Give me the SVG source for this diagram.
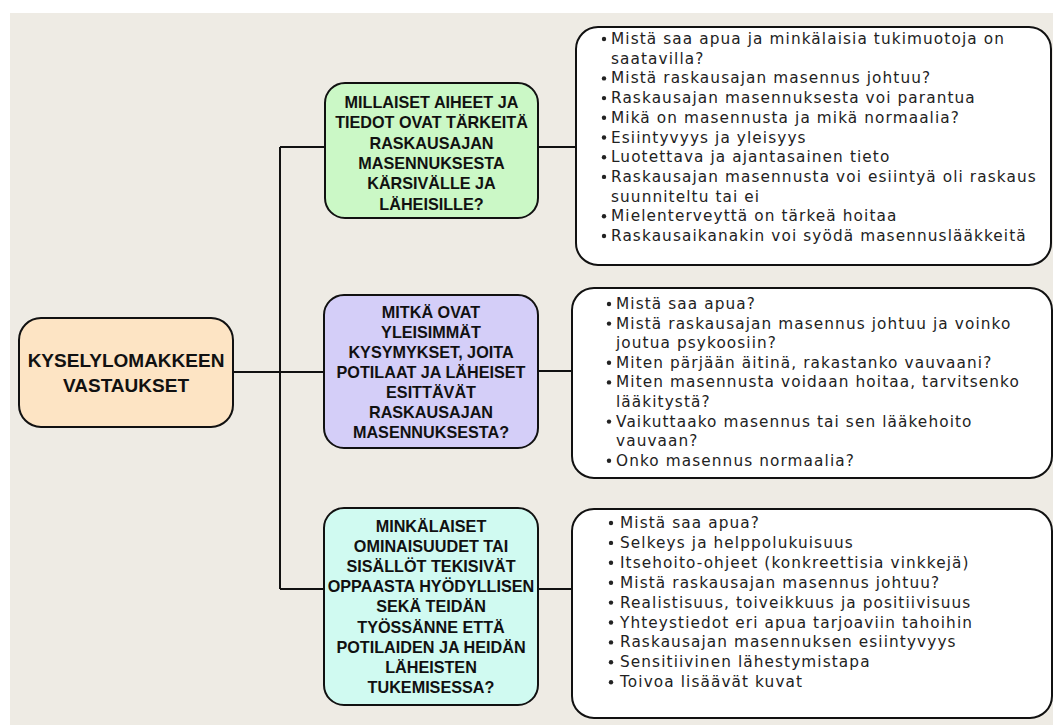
<svg xmlns="http://www.w3.org/2000/svg" width="1053" height="725" viewBox="0 0 1053 725">
<style>
.node{stroke:#111;stroke-width:2}
.title{font-family:"Liberation Sans",Arial,sans-serif;font-weight:700;fill:#111;text-anchor:middle}
.t19{font-size:19px}
.t16{font-size:16.2px}
.body{font-family:"DejaVu Sans","Noto Sans",sans-serif;font-size:15.3px;letter-spacing:1.1px;fill:#222}
.bul{fill:#222}
.conn{stroke:#111;stroke-width:2;fill:none}
</style>
<rect x="0" y="0" width="1053" height="725" fill="#ffffff"/>
<rect x="10" y="13" width="1043" height="712" fill="#eeebe4"/>
<g id="connectors">
<path class="conn" d="M233 372 H324"/>
<path class="conn" d="M280 147 V589"/>
<path class="conn" d="M280 147 H325"/>
<path class="conn" d="M280 589 H324"/>
<path class="conn" d="M538 147 H576"/>
<path class="conn" d="M538 371 H572"/>
<path class="conn" d="M538 589 H572"/>
</g>
<g id="root">
<rect class="node" x="19" y="318" width="214" height="109" rx="22" fill="#fde4c4"/>
<text class="title t19" x="126" y="367">KYSELYLOMAKKEEN</text>
<text class="title t19" x="126" y="392">VASTAUKSET</text>
</g>
<g id="q1">
<rect class="node" x="325" y="83" width="213" height="135" rx="20" fill="#cbf8c6"/>
<text class="title t16" x="431.5" y="108">MILLAISET AIHEET JA</text>
<text class="title t16" x="431.5" y="128.3">TIEDOT OVAT TÄRKEITÄ</text>
<text class="title t16" x="431.5" y="148.6">RASKAUSAJAN</text>
<text class="title t16" x="431.5" y="168.9">MASENNUKSESTA</text>
<text class="title t16" x="431.5" y="189.2">KÄRSIVÄLLE JA</text>
<text class="title t16" x="431.5" y="209.5">LÄHEISILLE?</text>
</g>
<g id="q2">
<rect class="node" x="324" y="295" width="214" height="153" rx="20" fill="#d4cef8"/>
<text class="title t16" x="431" y="318">MITKÄ OVAT</text>
<text class="title t16" x="431" y="338">YLEISIMMÄT</text>
<text class="title t16" x="431" y="358">KYSYMYKSET, JOITA</text>
<text class="title t16" x="431" y="378">POTILAAT JA LÄHEISET</text>
<text class="title t16" x="431" y="398">ESITTÄVÄT</text>
<text class="title t16" x="431" y="418">RASKAUSAJAN</text>
<text class="title t16" x="431" y="438">MASENNUKSESTA?</text>
</g>
<g id="q3">
<rect class="node" x="324" y="508" width="214" height="197" rx="20" fill="#d0faf1"/>
<text class="title t16" x="431" y="532">MINKÄLAISET</text>
<text class="title t16" x="431" y="552.1">OMINAISUUDET TAI</text>
<text class="title t16" x="431" y="572.2">SISÄLLÖT TEKISIVÄT</text>
<text class="title t16" x="431" y="592.3">OPPAASTA HYÖDYLLISEN</text>
<text class="title t16" x="431" y="612.4">SEKÄ TEIDÄN</text>
<text class="title t16" x="431" y="632.5">TYÖSSÄNNE ETTÄ</text>
<text class="title t16" x="431" y="652.6">POTILAIDEN JA HEIDÄN</text>
<text class="title t16" x="431" y="672.7">LÄHEISTEN</text>
<text class="title t16" x="431" y="692.8">TUKEMISESSA?</text>
</g>
<g id="a1">
<rect class="node" x="576" y="27" width="475" height="238" rx="22" fill="#ffffff"/>
<g class="bul">
<circle cx="604" cy="39" r="2.2"/>
<circle cx="604" cy="78.4" r="2.2"/>
<circle cx="604" cy="98.1" r="2.2"/>
<circle cx="604" cy="117.8" r="2.2"/>
<circle cx="604" cy="137.5" r="2.2"/>
<circle cx="604" cy="157.2" r="2.2"/>
<circle cx="604" cy="176.9" r="2.2"/>
<circle cx="604" cy="216.3" r="2.2"/>
<circle cx="604" cy="236" r="2.2"/>
</g>
<text class="body" x="611" y="44">Mistä saa apua ja minkälaisia tukimuotoja on</text>
<text class="body" x="611" y="63.7">saatavilla?</text>
<text class="body" x="611" y="83.4">Mistä raskausajan masennus johtuu?</text>
<text class="body" x="611" y="103.1">Raskausajan masennuksesta voi parantua</text>
<text class="body" x="611" y="122.8">Mikä on masennusta ja mikä normaalia?</text>
<text class="body" x="611" y="142.5">Esiintyvyys ja yleisyys</text>
<text class="body" x="611" y="162.2">Luotettava ja ajantasainen tieto</text>
<text class="body" x="611" y="181.9">Raskausajan masennusta voi esiintyä oli raskaus</text>
<text class="body" x="611" y="201.6">suunniteltu tai ei</text>
<text class="body" x="611" y="221.3">Mielenterveyttä on tärkeä hoitaa</text>
<text class="body" x="611" y="241">Raskausaikanakin voi syödä masennuslääkkeitä</text>
</g>
<g id="a2">
<rect class="node" x="572" y="288" width="480" height="190" rx="22" fill="#ffffff"/>
<g class="bul">
<circle cx="609" cy="304" r="2.2"/>
<circle cx="609" cy="323.6" r="2.2"/>
<circle cx="609" cy="362.8" r="2.2"/>
<circle cx="609" cy="382.4" r="2.2"/>
<circle cx="609" cy="421.6" r="2.2"/>
<circle cx="609" cy="460.8" r="2.2"/>
</g>
<text class="body" x="616" y="309">Mistä saa apua?</text>
<text class="body" x="616" y="328.6">Mistä raskausajan masennus johtuu ja voinko</text>
<text class="body" x="616" y="348.2">joutua psykoosiin?</text>
<text class="body" x="616" y="367.8">Miten pärjään äitinä, rakastanko vauvaani?</text>
<text class="body" x="616" y="387.4">Miten masennusta voidaan hoitaa, tarvitsenko</text>
<text class="body" x="616" y="407">lääkitystä?</text>
<text class="body" x="616" y="426.6">Vaikuttaako masennus tai sen lääkehoito</text>
<text class="body" x="616" y="446.2">vauvaan?</text>
<text class="body" x="616" y="465.8">Onko masennus normaalia?</text>
</g>
<g id="a3">
<rect class="node" x="572" y="509" width="480" height="209" rx="22" fill="#ffffff"/>
<g class="bul">
<circle cx="611" cy="523" r="2.2"/>
<circle cx="611" cy="542.9" r="2.2"/>
<circle cx="611" cy="562.8" r="2.2"/>
<circle cx="611" cy="582.7" r="2.2"/>
<circle cx="611" cy="602.6" r="2.2"/>
<circle cx="611" cy="622.5" r="2.2"/>
<circle cx="611" cy="642.4" r="2.2"/>
<circle cx="611" cy="662.3" r="2.2"/>
<circle cx="611" cy="682.2" r="2.2"/>
</g>
<text class="body" x="620" y="528">Mistä saa apua?</text>
<text class="body" x="620" y="547.9">Selkeys ja helppolukuisuus</text>
<text class="body" x="620" y="567.8">Itsehoito-ohjeet (konkreettisia vinkkejä)</text>
<text class="body" x="620" y="587.7">Mistä raskausajan masennus johtuu?</text>
<text class="body" x="620" y="607.6">Realistisuus, toiveikkuus ja positiivisuus</text>
<text class="body" x="620" y="627.5">Yhteystiedot eri apua tarjoaviin tahoihin</text>
<text class="body" x="620" y="647.4">Raskausajan masennuksen esiintyvyys</text>
<text class="body" x="620" y="667.3">Sensitiivinen lähestymistapa</text>
<text class="body" x="620" y="687.2">Toivoa lisäävät kuvat</text>
</g>
</svg>
